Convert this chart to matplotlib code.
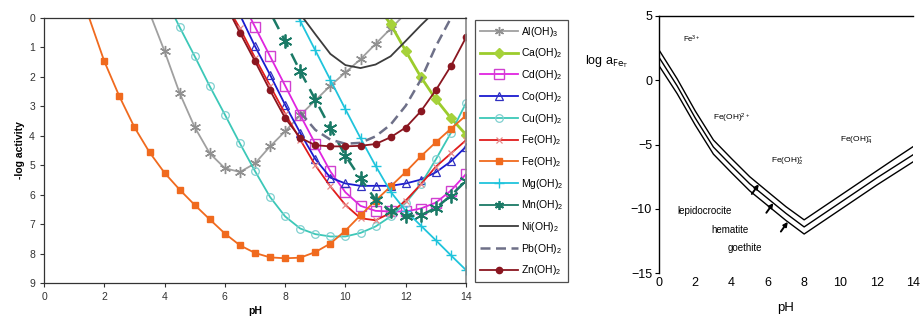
import numpy as np
import matplotlib
matplotlib.use('Agg')
import matplotlib.pyplot as plt
from matplotlib.lines import Line2D

plt.rcParams['font.family'] = ['Liberation Sans', 'DejaVu Sans']
plt.rcParams['mathtext.default'] = 'regular'

# ---------------- left chart data (pH, -log activity) ----------------
al_ph = [3.57, 4, 4.5, 5, 5.5, 6, 6.5, 7, 7.5, 8, 8.5, 9, 9.5, 10, 10.5, 11, 11.5, 11.85]
al_v  = [0.0, 1.13, 2.55, 3.71, 4.6, 5.1, 5.23, 4.94, 4.36, 3.85, 3.3, 2.8, 2.3, 1.85, 1.4, 0.88, 0.36, 0.0]

ca_ph = [11.35, 11.5, 12, 12.5, 13, 13.5, 14]
ca_v  = [0.0, 0.21, 1.12, 2.0, 2.76, 3.4, 3.96]

cd_ph = [6.85, 7, 7.5, 8, 8.5, 9, 9.5, 10, 10.5, 11, 11.5, 12, 12.5, 13, 13.5, 14]
cd_v  = [0.0, 0.3, 1.3, 2.3, 3.3, 4.27, 5.21, 5.92, 6.38, 6.55, 6.57, 6.57, 6.47, 6.27, 5.86, 5.3]

co_ph = [6.55, 7, 7.5, 8, 8.5, 9, 9.5, 10, 10.5, 11, 11.5, 12, 12.5, 13, 13.5, 14]
co_v  = [0.0, 0.96, 1.93, 2.95, 3.9, 4.79, 5.42, 5.62, 5.7, 5.7, 5.7, 5.62, 5.49, 5.24, 4.87, 4.37]

cu_ph = [4.35, 4.5, 5, 5.5, 6, 6.5, 7, 7.5, 8, 8.5, 9, 9.5, 10, 10.5, 11, 11.5, 12, 12.5, 13, 13.5, 14]
cu_v  = [0.0, 0.31, 1.3, 2.32, 3.28, 4.26, 5.2, 6.08, 6.74, 7.15, 7.34, 7.42, 7.42, 7.3, 7.08, 6.74, 6.28, 5.65, 4.8, 3.9, 2.89]

fe2_ph = [6.3, 6.5, 7, 7.5, 8, 8.5, 9, 9.5, 10, 10.5, 11, 11.5, 12, 12.5, 13, 13.5, 14]
fe2_v  = [0.0, 0.35, 1.35, 2.3, 3.25, 4.13, 5.0, 5.72, 6.35, 6.8, 6.87, 6.62, 6.2, 5.65, 5.05, 4.6, 4.15]

fe3_ph = [1.5, 2, 2.5, 3, 3.5, 4, 4.5, 5, 5.5, 6, 6.5, 7, 7.5, 8, 8.5, 9, 9.5, 10, 10.5, 11, 11.5, 12, 12.5, 13, 13.5, 14]
fe3_v  = [0.0, 1.47, 2.66, 3.71, 4.56, 5.26, 5.83, 6.35, 6.84, 7.32, 7.72, 7.98, 8.13, 8.16, 8.14, 7.95, 7.66, 7.22, 6.7, 6.2, 5.72, 5.23, 4.7, 4.22, 3.76, 3.31]

mg_ph = [8.45, 8.5, 9, 9.5, 10, 10.5, 11, 11.5, 12, 12.5, 13, 13.5, 14]
mg_v  = [0.0, 0.1, 1.1, 2.1, 3.1, 4.08, 5.02, 5.9, 6.55, 7.05, 7.55, 8.06, 8.56]

mn_ph = [7.6, 8, 8.5, 9, 9.5, 10, 10.5, 11, 11.5, 12, 12.5, 13, 13.5, 14]
mn_v  = [0.0, 0.79, 1.81, 2.77, 3.74, 4.68, 5.45, 6.17, 6.55, 6.74, 6.7, 6.45, 6.03, 5.53]

ni_ph = [8.6, 9, 9.5, 10, 10.5, 11, 11.5, 12, 12.5, 12.75]
ni_v  = [0.0, 0.55, 1.22, 1.6, 1.7, 1.58, 1.3, 0.78, 0.25, 0.0]

pb_ph = [8.5, 9, 9.5, 10, 10.5, 11, 11.5, 12, 12.5, 13, 13.5]
pb_v  = [3.2, 3.8, 4.13, 4.27, 4.24, 4.02, 3.62, 2.98, 2.1, 0.96, 0.0]

zn_ph = [6.25, 6.5, 7, 7.5, 8, 8.5, 9, 9.5, 10, 10.5, 11, 11.5, 12, 12.5, 13, 13.5, 14]
zn_v  = [0.0, 0.5, 1.47, 2.46, 3.4, 4.07, 4.32, 4.36, 4.36, 4.34, 4.28, 4.05, 3.72, 3.17, 2.45, 1.63, 0.66]

labels = ['Al(OH)$_3$', 'Ca(OH)$_2$', 'Cd(OH)$_2$', 'Co(OH)$_2$', 'Cu(OH)$_2$', 'Fe(OH)$_2$',
          'Fe(OH)$_2$', 'Mg(OH)$_2$', 'Mn(OH)$_2$', 'Ni(OH)$_2$', 'Pb(OH)$_2$', 'Zn(OH)$_2$']

# ---------------- right chart data (pH, log a) ----------------
r_ph = [0, 1, 2, 3, 4, 5, 6, 7, 8, 9, 10, 11, 12, 13, 14]
lepido = [2.34, 0.1, -2.4, -4.65, -6.1, -7.5, -8.67, -9.83, -10.85, -9.9, -8.95, -8.0, -7.05, -6.1, -5.17]
hemat  = [1.77, -0.45, -2.95, -5.2, -6.65, -8.05, -9.2, -10.35, -11.4, -10.45, -9.5, -8.55, -7.6, -6.7, -5.8]
goeth  = [1.12, -1.05, -3.5, -5.75, -7.2, -8.6, -9.75, -10.9, -11.95, -11.0, -10.05, -9.1, -8.15, -7.25, -6.35]
mineral_names = ['lepidocrocite', 'hematite', 'goethite']
arrow_ph = [5.5, 6.3, 7.1]

W, H = 922, 320
fig = plt.figure(figsize=(W / 100, H / 100), dpi=100)

ax = fig.add_axes([44 / W, 1 - 283 / H, 422 / W, 265 / H])


def mask_of(ph, v):
    ph = np.asarray(ph)
    v = np.asarray(v)
    return list((np.abs(np.mod(ph, 0.5)) < 1e-9) & (v > 0.05))


styles = [
    (al_ph, al_v, dict(color='#a0a0a0', lw=1.3, marker=(6, 2, 0), ms=8, mec='#909090', mew=1.0)),
    (ca_ph, ca_v, dict(color='#9ccc2c', lw=2.0, marker='D', ms=5.5, mfc='#a6d23a', mec='#a6d23a')),
    (cd_ph, cd_v, dict(color='#e024e0', lw=1.3, marker='s', ms=7.5, mfc='none', mec='#d040d0', mew=1.0)),
    (co_ph, co_v, dict(color='#1a1ad0', lw=1.3, marker='^', ms=5.5, mfc='none', mec='#3030c0', mew=0.9)),
    (cu_ph, cu_v, dict(color='#3cc8b8', lw=1.3, marker='o', ms=5.5, mfc='none', mec='#80d0d0', mew=0.9)),
    (fe2_ph, fe2_v, dict(color='#e01c1c', lw=1.3, marker='x', ms=5, mec='#e88a8a', mew=0.9)),
    (fe3_ph, fe3_v, dict(color='#f06a1e', lw=1.3, marker='s', ms=4.5, mfc='#f06a1e', mec='#f06a1e')),
    (mg_ph, mg_v, dict(color='#20c4dc', lw=1.3, marker='+', ms=7, mec='#20c4dc', mew=1.0)),
    (mn_ph, mn_v, dict(color='#1a7a66', lw=1.8, ls=(0, (5, 3)), marker=(6, 2, 0), ms=10, mec='#1a7a66', mew=1.3)),
    (ni_ph, ni_v, dict(color='#3c3c3c', lw=1.3)),
    (pb_ph, pb_v, dict(color='#6e7088', lw=1.8, ls=(0, (4, 2.2)))),
    (zn_ph, zn_v, dict(color='#8a1620', lw=1.3, marker='o', ms=4.5, mfc='#8a1620', mec='#8a1620')),
]

handles = []
for (ph, v, kw), lab in zip(styles, labels):
    kk = dict(kw)
    if 'marker' in kk:
        kk['markevery'] = mask_of(ph, v)
    ax.plot(ph, v, clip_on=True, **kk)
    hk = dict(kw)
    if hk.get('ls') == (0, (5, 3)):
        hk['ls'] = '-'
        hk['lw'] = 1.3
    if 'ms' in hk:
        hk['ms'] = min(hk['ms'], 6.5)
    handles.append(Line2D([], [], **hk))

ax.set_xlim(0, 14)
ax.set_ylim(9, 0)
ax.set_xticks(range(0, 15, 2))
ax.set_yticks(range(0, 10))
ax.tick_params(labelsize=7.5, colors='#333333', length=3, width=0.8, direction='out')
for s in ['left', 'bottom', 'top']:
    ax.spines[s].set_color('#333333')
    ax.spines[s].set_linewidth(0.9)
ax.spines['right'].set_color('#888888')
ax.spines['right'].set_linewidth(1.2)
ax.set_xlabel('pH', fontsize=7.5, fontweight='bold', labelpad=3)
ax.set_ylabel('-log activity', fontsize=7.5, fontweight='bold', labelpad=3)

leg = fig.legend(handles=handles, labels=labels, loc='upper left',
                 bbox_to_anchor=(475 / W, 1 - 20 / H), bbox_transform=fig.transFigure,
                 borderaxespad=0, frameon=True, fancybox=False, fontsize=7.5,
                 handlelength=3.7, handletextpad=0.25, borderpad=0.45, labelspacing=0.74,
                 numpoints=1)
leg.get_frame().set_edgecolor('#222222')
leg.get_frame().set_linewidth(0.9)

# ---------------- right chart ----------------
ax2 = fig.add_axes([659 / W, 1 - 273.3 / H, 254 / W, 257.6 / H])
for curve in (lepido, hemat, goeth):
    ax2.plot(r_ph, curve, color='black', lw=1.0)
ax2.set_xlim(0, 14)
ax2.set_ylim(-15, 5)
ax2.set_xticks(range(0, 15, 2))
ax2.set_yticks([-15, -10, -5, 0, 5])
ax2.spines['right'].set_visible(False)
ax2.spines['bottom'].set_visible(False)
ax2.spines['top'].set_linewidth(1.0)
ax2.spines['left'].set_linewidth(1.0)
ax2.tick_params(axis='x', length=0, labelsize=9, pad=3)
ax2.tick_params(axis='y', length=3, labelsize=9, pad=2)
ax2.set_xlabel('pH', fontsize=9.5, labelpad=9)
fig.text(585 / W, 1 - 62 / H, r'log a$_{\mathrm{Fe_T}}$', fontsize=9, va='center', ha='left')

for name, curve, aph in zip(mineral_names, (lepido, hemat, goeth), arrow_ph):
    yv = np.interp(aph, r_ph, curve)
    ax2.annotate('', xy=(aph, yv), xytext=(-5, -7), textcoords='offset points',
                 arrowprops=dict(arrowstyle='-|>', color='black', lw=1.4, mutation_scale=6,
                                 shrinkA=0, shrinkB=0))

ax2.text(1.35, 2.9, 'Fe$^{3+}$', fontsize=5.5)
ax2.text(3.0, -3.1, 'Fe(OH)$^{2+}$', fontsize=6)
ax2.text(6.2, -6.4, 'Fe(OH)$_2^{+}$', fontsize=6)
ax2.text(10.0, -4.7, 'Fe(OH)$_4^{-}$', fontsize=6)
ax2.text(1.0, -10.4, 'lepidocrocite', fontsize=7)
ax2.text(2.9, -11.85, 'hematite', fontsize=7)
ax2.text(3.8, -13.3, 'goethite', fontsize=7)

fig.savefig('out.png', dpi=100)
